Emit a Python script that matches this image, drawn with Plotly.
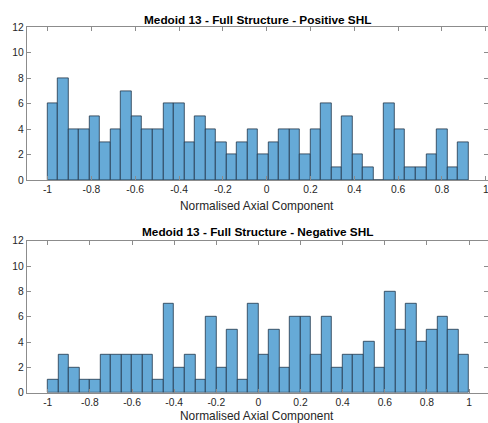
import plotly.graph_objects as go

# Histogram counts per bin (Positive SHL: 40 bins of width 0.048 from -1)
pos_bin_start = -1.0
pos_bin_width = 0.048
pos_counts = [6, 8, 4, 4, 5, 3, 4, 7, 5, 4,
              4, 6, 6, 3, 5, 4, 3, 2, 3, 4,
              2, 3, 4, 4, 2, 4, 6, 1, 5, 2,
              1, 0, 6, 4, 1, 1, 2, 4, 1, 3]

# Negative SHL: 40 bins of width 0.05 from -1 to 1
neg_bin_start = -1.0
neg_bin_width = 0.05
neg_counts = [1, 3, 2, 1, 1, 3, 3, 3, 3, 3,
              1, 7, 2, 3, 1, 6, 2, 5, 1, 7,
              3, 5, 2, 6, 6, 3, 6, 2, 3, 3,
              4, 2, 8, 5, 7, 4, 5, 6, 5, 3]

x_tick_vals = [-1, -0.8, -0.6, -0.4, -0.2, 0, 0.2, 0.4, 0.6, 0.8, 1]
x_tick_text = ["-1", "-0.8", "-0.6", "-0.4", "-0.2", "0", "0.2", "0.4", "0.6", "0.8", "1"]
y_tick_vals = [0, 2, 4, 6, 8, 10, 12]
y_tick_text = ["0", "2", "4", "6", "8", "10", "12"]

titles = ["Medoid 13 - Full Structure - Positive SHL",
          "Medoid 13 - Full Structure - Negative SHL"]
x_title = "Normalised Axial Component"

W, H = 488, 423
FONT = "Liberation Sans, Arial, Helvetica, sans-serif"
TXT = "#262626"
LINE = "#8c8c8c"
EDGE = "#22364a"
BAR = "#66AAD7"


def centers(start, width, n):
    return [start + width * (i + 0.5) for i in range(n)]


fig = go.Figure()
fig.add_trace(go.Bar(
    x=centers(pos_bin_start, pos_bin_width, len(pos_counts)), y=pos_counts,
    width=pos_bin_width, marker=dict(color=BAR, line=dict(color=EDGE, width=0.8)),
    xaxis="x", yaxis="y", showlegend=False, hoverinfo="skip"))
fig.add_trace(go.Bar(
    x=centers(neg_bin_start, neg_bin_width, len(neg_counts)), y=neg_counts,
    width=neg_bin_width, marker=dict(color=BAR, line=dict(color=EDGE, width=0.8)),
    xaxis="x2", yaxis="y2", showlegend=False, hoverinfo="skip"))

x_dom = [26.7 / W, 1.0]
top_dom = [(H - 180) / H, (H - 27.3) / H]
bot_dom = [(H - 392.7) / H, (H - 240.7) / H]

common_x = dict(tickmode="array", tickvals=x_tick_vals, ticktext=x_tick_text,
                ticks="inside", ticklen=4, tickcolor=LINE, tickwidth=1,
                showline=True, linecolor=LINE, linewidth=1, mirror="ticks",
                showgrid=False, zeroline=False, automargin=False,
                ticklabeloverflow="allow",
                tickfont=dict(family=FONT, size=10.3, color=TXT))
common_y = dict(tickmode="array", tickvals=y_tick_vals, ticktext=y_tick_text,
                range=[0, 12], ticks="inside", ticklen=4, tickcolor=LINE, tickwidth=1,
                showline=True, linecolor=LINE, linewidth=1, mirror="ticks",
                showgrid=False, zeroline=False, automargin=False,
                ticklabeloverflow="allow",
                tickfont=dict(family=FONT, size=10.3, color=TXT))

fig.update_layout(
    width=W, height=H,
    margin=dict(l=0, r=0, t=0, b=0),
    paper_bgcolor="white", plot_bgcolor="white",
    bargap=0,
    xaxis=dict(common_x, domain=x_dom, range=[-1.095, 1.01], anchor="y"),
    yaxis=dict(common_y, domain=top_dom, anchor="x"),
    xaxis2=dict(common_x, domain=x_dom, range=[-1.1, 1.09], anchor="y2"),
    yaxis2=dict(common_y, domain=bot_dom, anchor="x2"),
    font=dict(family=FONT, color=TXT),
)

x_mid = (26.7 + W) / 2 / W
annots = [
    (titles[0], 19.5, 11.8, True),
    (x_title, 206, 11.9, False),
    (titles[1], 232, 11.8, True),
    (x_title, 415.5, 11.9, False),
]
for text, py, size, bold in annots:
    fig.add_annotation(
        text=f"<b>{text}</b>" if bold else text,
        x=x_mid, y=(H - py) / H, xref="paper", yref="paper",
        xanchor="center", yanchor="middle", showarrow=False,
        font=dict(family=FONT, size=size, color="#000000" if bold else TXT))

fig.write_html("out.html")
